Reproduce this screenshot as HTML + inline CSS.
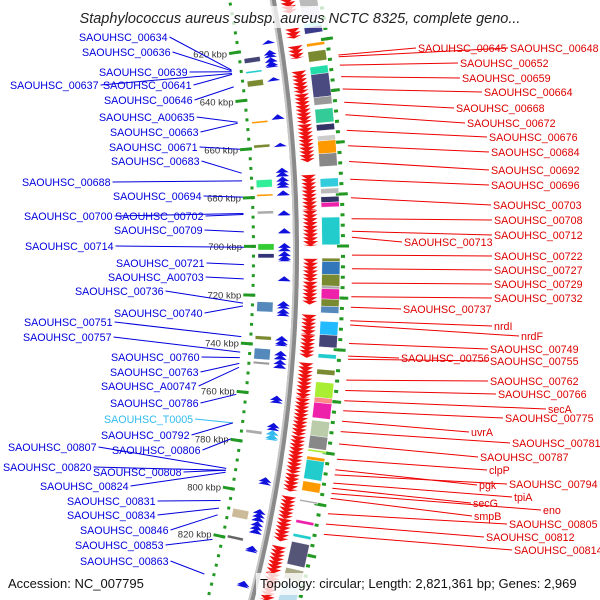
<!DOCTYPE html>
<html><head><meta charset="utf-8"><style>
html,body{margin:0;padding:0;background:#fff;}
svg{display:block;font-family:"Liberation Sans",sans-serif;}
</style></head><body>
<svg id="map" width="600" height="600" viewBox="0 0 600 600" xmlns="http://www.w3.org/2000/svg">
<g id="ticks"></g>
<g id="feats"></g>
<path id="backbone" fill="none" stroke="#8a8a8a" stroke-width="6"/>
<path id="backbone2" fill="none" stroke="#c8c8c8" stroke-width="2"/>
<g id="genes"></g>
<g id="labels"></g>
<g>
<rect x="55" y="6" width="490" height="22" fill="#fff" opacity="0.75"/>
<text x="300" y="23" text-anchor="middle" font-size="14.5" font-style="italic" fill="#222">Staphylococcus aureus subsp. aureus NCTC 8325, complete geno...</text>
</g>
<g>
<rect x="3" y="573" width="145" height="22" fill="#fff" opacity="0.8"/>
<text x="8" y="588" font-size="13" fill="#111">Accession: NC_007795</text>
<rect x="256" y="573" width="342" height="22" fill="#fff" opacity="0.8"/>
<text x="260" y="588" font-size="13" fill="#111">Topology: circular; Length: 2,821,361 bp; Genes: 2,969</text>
</g>
</svg>
<script>
// ---- data (kbp) ----
const tickKbp=[620,640,660,680,700,720,740,760,780,800,820];
const tickLabels=["620 kbp","640 kbp","660 kbp","680 kbp","700 kbp","720 kbp","740 kbp","760 kbp","780 kbp","800 kbp","820 kbp"];
const redGenes=[[602,608],[614,618],[621,626],[631,640],[640,652],[652,667],[672,686],[686,700],[705,714],[714,723],[727,735],[735,744],[746,760],[760,775],[775,790],[790,797],[799,808],[808,817],[819,830],[830,841]];
const blueGenes=[[617,618.5],[621,624],[624,628],[632,633.5],[647,649],[658.5,660],[668.5,672],[672,676.5],[677.6,679.6],[685.6,687.6],[692.8,694.8],[698.7,702],[702,706],[712,714],[722,725],[725,728],[736,740],[742,745.5],[745.5,749],[760,763],[771,774],[793,796],[806,811],[811,816],[821,823.6],[835.5,838]];
const lightBlueGenes=[[774,778]];
const rightBoxes=[[602,607,"#bbbbbb"],[607,612,"#d8d8f0"],[613,615,"#88eeee"],[614.5,617,"#3a3a8a"],[620.8,622,"#ff9900"],[624,628,"#7a8a30"],[630,633,"#22ddaa"],[633,642,"#4a4a80"],[642,645,"#999999"],[646.6,652,"#33cc99"],[652.6,655,"#333366"],[657,659,"#cccccc"],[659,664,"#ff9900"],[664,669,"#888888"],[673.7,677,"#33ccdd"],[677.6,679.6,"#bbbbbb"],[680.8,683,"#333366"],[683,684.8,"#ee22aa"],[688.8,699.5,"#22cccc"],[704.7,706,"#7a8a30"],[706,711,"#3377bb"],[711,715.5,"#7a8a30"],[715.5,716.6,"#aaaaaa"],[716.6,720.6,"#ee22aa"],[720.6,723.4,"#7a8a30"],[723.4,726,"#5588bb"],[729.3,734.5,"#22bbff"],[734.5,739.3,"#444477"],[742,743.6,"#22cccc"],[748,750,"#7a8a30"],[753,759,"#aaee33"],[759,761,"#ff8888"],[761,767,"#ee22aa"],[768,774,"#bbccaa"],[774,779,"#888888"],[779.4,780.2,"#aaee33"],[782.2,783.5,"#ff9900"],[783.5,791,"#22cccc"],[792,795.7,"#ff9900"],[799.3,800,"#aaaaaa"],[807.3,808.5,"#ee22aa"],[812.8,814,"#22cccc"],[816,825,"#555577"],[826.4,830.7,"#aaaa88"],[832,840.7,"#bbddee"]];
const leftBoxes=[[623,625,"#444477"],[628.4,629.2,"#22cccc"],[632.3,634.7,"#7a8a30"],[649,649.8,"#ff9900"],[658.6,659.8,"#7a8a30"],[672.9,676,"#33ee99"],[678.8,679.6,"#ff9900"],[685.6,686.8,"#aaaaaa"],[699,701.5,"#33cc33"],[703,704.7,"#333377"],[722.6,726.6,"#5588bb"],[736.5,738,"#7a8a30"],[741.6,746,"#5588bb"],[747,748,"#999999"],[775,776.3,"#aaaaaa"],[807.7,811.2,"#ccbb99"],[818.8,820,"#666666"]];
const blueNames=["SAOUHSC_00634","SAOUHSC_00636","SAOUHSC_00639","SAOUHSC_00637","SAOUHSC_00641","SAOUHSC_00646","SAOUHSC_A00635","SAOUHSC_00663","SAOUHSC_00671","SAOUHSC_00683","SAOUHSC_00688","SAOUHSC_00694","SAOUHSC_00700","SAOUHSC_00702","SAOUHSC_00709","SAOUHSC_00714","SAOUHSC_00721","SAOUHSC_A00703","SAOUHSC_00736","SAOUHSC_00740","SAOUHSC_00751","SAOUHSC_00757","SAOUHSC_00760","SAOUHSC_00763","SAOUHSC_A00747","SAOUHSC_00786","SAOUHSC_T0005","SAOUHSC_00792","SAOUHSC_00806","SAOUHSC_00807","SAOUHSC_00820","SAOUHSC_00808","SAOUHSC_00824","SAOUHSC_00831","SAOUHSC_00834","SAOUHSC_00846","SAOUHSC_00853","SAOUHSC_00863"];
const blueX=[79,82,99,10,103,104,99,110,109,111,22,113,24,115,114,25,116,108,75,114,24,23,111,110,101,110,104,101,112,8,3,93,40,67,67,80,75,80];
const blueY=[37,52,72,85,85,100,117,132,147,161,182,196,216,216,230,246,263,277,291,313,322,337,357,372,386,403,419,435,450,447,467,472,486,501,515,530,545,561];
const blueAnchor=[626.8,627.2,627.6,628.3,628.7,633.9,648.6,649.0,659.8,669.7,672.9,679.6,686.4,686.8,694.0,700.3,707.5,713.4,723.4,724.6,737.3,743.7,746.0,748.4,750.0,761.2,773.1,773.1,779.8,792.1,792.9,792.9,793.7,805.6,808.8,811.6,822.0,836.7];
const redNames=["SAOUHSC_00645","SAOUHSC_00648","SAOUHSC_00652","SAOUHSC_00659","SAOUHSC_00664","SAOUHSC_00668","SAOUHSC_00672","SAOUHSC_00676","SAOUHSC_00684","SAOUHSC_00692","SAOUHSC_00696","SAOUHSC_00703","SAOUHSC_00708","SAOUHSC_00712","SAOUHSC_00713","SAOUHSC_00722","SAOUHSC_00727","SAOUHSC_00729","SAOUHSC_00732","SAOUHSC_00737","nrdI","nrdF","SAOUHSC_00749","SAOUHSC_00756","SAOUHSC_00755","SAOUHSC_00762","SAOUHSC_00766","secA","SAOUHSC_00775","uvrA","SAOUHSC_00781","SAOUHSC_00787","clpP","SAOUHSC_00794","pgk","tpiA","secG","eno","smpB","SAOUHSC_00805","SAOUHSC_00812","SAOUHSC_00814"];
const redX=[418,510,460,462,484,456,467,489,491,491,491,493,494,494,404,494,494,494,494,403,494,521,490,401,490,490,498,548,505,471,512,480,489,509,479,514,473,543,474,509,486,514];
const redY=[48,48,63,78,92,108,123,137,152,170,185,205,220,235,242,256,270,284,298,309,326,336,349,358,361,381,394,409,418,432,443,457,470,484,485,497,503,510,516,524,537,550];
const redAnchor=[626.8,627.5,630.7,635.1,639.9,645.0,649.8,655.8,661.7,667.7,674.5,681.6,689.6,694.4,696.7,703.5,708.7,714.2,719.4,723.4,728.6,730.2,737.3,742.1,743.3,751.3,755.3,759.2,763.1,767.1,771.1,775.9,781.8,787.8,785.8,791.0,793.0,795.0,796.9,802.9,806.9,810.9];

const NS="http://www.w3.org/2000/svg";
const CX=-1082,CY=252,R=1378,S=2.515,K0=702.3;
function pt(k,d){const t=(k-K0)*S/R;return [CX+(R+d)*Math.cos(t),CY+(R+d)*Math.sin(t)];}
function P(a){return a[0].toFixed(1)+","+a[1].toFixed(1);}
function mk(tag,attrs,parent){const e=document.createElementNS(NS,tag);for(const k in attrs)e.setAttribute(k,attrs[k]);parent.appendChild(e);return e;}
function arcPath(k1,k2,d){let s="";for(let k=k1;k<=k2;k+=2){s+=(s?"L":"M")+P(pt(k,d));}return s;}
document.getElementById('backbone').setAttribute('d',arcPath(590,850,0));
document.getElementById('backbone2').setAttribute('d',arcPath(590,850,-2));

const tg=document.getElementById('ticks');
for(let k=600;k<=844;k+=4){
  [[45,49],[-44,-41]].forEach(([a,b])=>{
    const ln=mk('line',{},tg);const p1=pt(k,a),p2=pt(k,b);
    ln.setAttribute('x1',p1[0]);ln.setAttribute('y1',p1[1]);ln.setAttribute('x2',p2[0]);ln.setAttribute('y2',p2[1]);
    ln.setAttribute('stroke','#229922');ln.setAttribute('stroke-width','3');
    
    
  });
}
tickKbp.forEach((k,i)=>{
  [[41,53],[-52,-40]].forEach(([a,b])=>{
    const ln=mk('line',{},tg);const p1=pt(k,a),p2=pt(k,b);
    ln.setAttribute('x1',p1[0]);ln.setAttribute('y1',p1[1]);ln.setAttribute('x2',p2[0]);ln.setAttribute('y2',p2[1]);
    ln.setAttribute('stroke','#229922');ln.setAttribute('stroke-width','3');
    
    
  });
  const p=pt(k,-54);
  const t=mk('text',{x:p[0].toFixed(1),y:(p[1]+3.5).toFixed(1),'text-anchor':'end','font-size':'9.5',fill:'#333'},tg);
  t.textContent=tickLabels[i];
  
  
});

const fg=document.getElementById('feats');
function box(k1,k2,d1,d2,c){
  const pts=[pt(k1,d1),pt(k1,d2),pt(k2,d2),pt(k2,d1)].map(P).join(" ");
  const e=mk('polygon',{points:pts,fill:c,stroke:'#fff','stroke-width':'0.4'},fg);
  
  
}
rightBoxes.forEach(b=>box(b[0],b[1],26,44,b[2]));
leftBoxes.forEach(b=>box(b[0],b[1],-38,-22,b[2]));

const gg=document.getElementById('genes');
function chevrons(g,d1,d2,dir,color){
  const step=1.5;
  for(let k=g[0];k<g[1]-0.3;k+=step){
    const e2=Math.min(k+step*1.3,g[1]);
    let pts;
    if(dir>0) pts=[pt(k,d1),pt(k,d2),pt(e2,(d1+d2)/2)];
    else pts=[pt(e2,d1),pt(e2,d2),pt(k,(d1+d2)/2)];
    const e=mk('polygon',{points:pts.map(P).join(" "),fill:color},gg);
    
    
  }
}
redGenes.forEach(g=>chevrons(g,7,22,1,'#ee1111'));
blueGenes.forEach(g=>chevrons(g,-18,-5,-1,'#1111dd'));
lightBlueGenes.forEach(g=>chevrons(g,-18,-5,-1,'#33bbee'));

const lg=document.getElementById('labels');
blueNames.forEach((n,i)=>{
  const col=n==="SAOUHSC_T0005"?"#33bbee":"#0000dd";
  const t=mk('text',{x:blueX[i],y:blueY[i]+4,'font-size':'10.7',fill:col},lg);
  t.textContent=n;
  
  
  const w=t.getComputedTextLength();
  const a=pt(blueAnchor[i],-52);
  const ln=mk('line',{x1:blueX[i]+w+2,y1:blueY[i],x2:a[0].toFixed(1),y2:a[1].toFixed(1),stroke:col,'stroke-width':'1'},lg);
  
  
});
redNames.forEach((n,i)=>{
  const t=mk('text',{x:redX[i],y:redY[i]+4,'font-size':'10.7',fill:'#dd0000'},lg);
  t.textContent=n;
  
  
  const a=pt(redAnchor[i],56);
  const ln=mk('line',{x1:redX[i]-2,y1:redY[i],x2:a[0].toFixed(1),y2:a[1].toFixed(1),stroke:'#ee0000','stroke-width':'1'},lg);
  
  
});
</script>
</body></html>
